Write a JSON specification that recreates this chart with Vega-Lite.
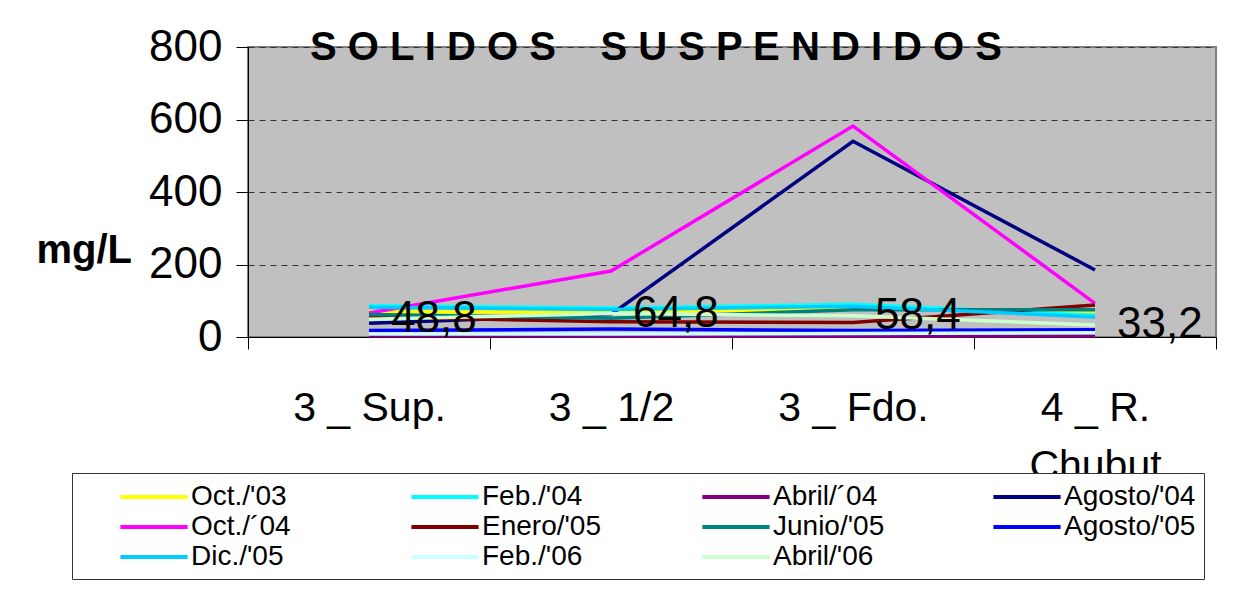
{
  "$schema": "https://vega.github.io/schema/vega-lite/v6.json",
  "autosize": "none",
  "width": 968,
  "height": 290,
  "padding": {"left": 248, "top": 47, "right": 25, "bottom": 261},
  "background": "white",
  "config": {
    "locale": {"number": {"decimal": ",", "thousands": ".", "grouping": [3], "currency": ["$", ""]}},
    "font": "Liberation Sans",
    "view": {"fill": "#C0C0C0", "stroke": "#808080", "strokeWidth": 2}
  },
  "title": {
    "text": "S O L I D O S\u00a0\u00a0\u00a0\u00a0S U S P E N D I D O S",
    "anchor": "start",
    "frame": "group",
    "dx": 62,
    "dy": 47,
    "font": "Liberation Sans",
    "fontSize": 40,
    "fontWeight": "bold",
    "color": "black"
  },
  "data": {
    "values": [
      {"serie": "Oct./'03", "sitio": "3 _ Sup.", "valor": 70},
      {"serie": "Oct./'03", "sitio": "3 _ 1/2", "valor": 68},
      {"serie": "Oct./'03", "sitio": "3 _ Fdo.", "valor": 78},
      {"serie": "Oct./'03", "sitio": "4 _ R. Chubut", "valor": 70},
      {"serie": "Feb./'04", "sitio": "3 _ Sup.", "valor": 86},
      {"serie": "Feb./'04", "sitio": "3 _ 1/2", "valor": 80},
      {"serie": "Feb./'04", "sitio": "3 _ Fdo.", "valor": 90},
      {"serie": "Feb./'04", "sitio": "4 _ R. Chubut", "valor": 60},
      {"serie": "Abril/´04", "sitio": "3 _ Sup.", "valor": 3},
      {"serie": "Abril/´04", "sitio": "3 _ 1/2", "valor": 2},
      {"serie": "Abril/´04", "sitio": "3 _ Fdo.", "valor": 2},
      {"serie": "Abril/´04", "sitio": "4 _ R. Chubut", "valor": 3},
      {"serie": "Agosto/'04", "sitio": "3 _ Sup.", "valor": 38},
      {"serie": "Agosto/'04", "sitio": "3 _ 1/2", "valor": 62},
      {"serie": "Agosto/'04", "sitio": "3 _ Fdo.", "valor": 540},
      {"serie": "Agosto/'04", "sitio": "4 _ R. Chubut", "valor": 185},
      {"serie": "Oct./´04", "sitio": "3 _ Sup.", "valor": 66},
      {"serie": "Oct./´04", "sitio": "3 _ 1/2", "valor": 182},
      {"serie": "Oct./´04", "sitio": "3 _ Fdo.", "valor": 582},
      {"serie": "Oct./´04", "sitio": "4 _ R. Chubut", "valor": 93},
      {"serie": "Enero/'05", "sitio": "3 _ Sup.", "valor": 55},
      {"serie": "Enero/'05", "sitio": "3 _ 1/2", "valor": 42},
      {"serie": "Enero/'05", "sitio": "3 _ Fdo.", "valor": 40},
      {"serie": "Enero/'05", "sitio": "4 _ R. Chubut", "valor": 88},
      {"serie": "Junio/'05", "sitio": "3 _ Sup.", "valor": 62},
      {"serie": "Junio/'05", "sitio": "3 _ 1/2", "valor": 52},
      {"serie": "Junio/'05", "sitio": "3 _ Fdo.", "valor": 75},
      {"serie": "Junio/'05", "sitio": "4 _ R. Chubut", "valor": 75},
      {"serie": "Agosto/'05", "sitio": "3 _ Sup.", "valor": 18},
      {"serie": "Agosto/'05", "sitio": "3 _ 1/2", "valor": 22},
      {"serie": "Agosto/'05", "sitio": "3 _ Fdo.", "valor": 18},
      {"serie": "Agosto/'05", "sitio": "4 _ R. Chubut", "valor": 20},
      {"serie": "Dic./'05", "sitio": "3 _ Sup.", "valor": 82},
      {"serie": "Dic./'05", "sitio": "3 _ 1/2", "valor": 76},
      {"serie": "Dic./'05", "sitio": "3 _ Fdo.", "valor": 85},
      {"serie": "Dic./'05", "sitio": "4 _ R. Chubut", "valor": 55},
      {"serie": "Feb./'06", "sitio": "3 _ Sup.", "valor": 8},
      {"serie": "Feb./'06", "sitio": "3 _ 1/2", "valor": 8},
      {"serie": "Feb./'06", "sitio": "3 _ Fdo.", "valor": 10},
      {"serie": "Feb./'06", "sitio": "4 _ R. Chubut", "valor": 12},
      {"serie": "Abril/'06", "sitio": "3 _ Sup.", "valor": 48.8},
      {"serie": "Abril/'06", "sitio": "3 _ 1/2", "valor": 64.8},
      {"serie": "Abril/'06", "sitio": "3 _ Fdo.", "valor": 58.4},
      {"serie": "Abril/'06", "sitio": "4 _ R. Chubut", "valor": 33.2}
    ]
  },
  "encoding": {
    "x": {
      "field": "sitio",
      "type": "nominal",
      "sort": ["3 _ Sup.", "3 _ 1/2", "3 _ Fdo.", "4 _ R. Chubut"],
      "scale": {"type": "band", "paddingInner": 0, "paddingOuter": 0},
      "axis": {
        "title": null,
        "labelAngle": 0,
        "tickBand": "extent",
        "domainColor": "black",
        "tickColor": "black",
        "tickSize": 12,
        "labelFontSize": 41,
        "labelColor": "black",
        "labelPadding": 71,
        "labelBaseline": "alphabetic",
        "labelLineHeight": 58,
        "labelExpr": "datum.label == '4 _ R. Chubut' ? ['4 _ R.', 'Chubut'] : datum.label"
      }
    },
    "y": {
      "field": "valor",
      "type": "quantitative",
      "scale": {"domain": [0, 800], "nice": false},
      "axis": {
        "values": [0, 200, 400, 600, 800],
        "title": "mg/L",
        "titleAngle": 0,
        "titleFont": "Liberation Sans",
        "titleFontSize": 40,
        "titleFontWeight": "bold",
        "titleColor": "black",
        "titleAlign": "left",
        "titleBaseline": "middle",
        "titleX": -212,
        "titleY": 203,
        "domainColor": "black",
        "tickColor": "black",
        "tickSize": 12,
        "labelFontSize": 44,
        "labelColor": "black",
        "labelPadding": 14,
        "grid": true,
        "gridColor": "#333333",
        "gridDash": [6, 5],
        "gridWidth": 1
      }
    }
  },
  "layer": [
    {
      "mark": {"type": "line", "strokeWidth": 3.5},
      "encoding": {
        "color": {
          "field": "serie",
          "type": "nominal",
          "sort": ["Oct./'03", "Feb./'04", "Abril/´04", "Agosto/'04", "Oct./´04", "Enero/'05", "Junio/'05", "Agosto/'05", "Dic./'05", "Feb./'06", "Abril/'06"],
          "scale": {
            "domain": ["Oct./'03", "Feb./'04", "Abril/´04", "Agosto/'04", "Oct./´04", "Enero/'05", "Junio/'05", "Agosto/'05", "Dic./'05", "Feb./'06", "Abril/'06"],
            "range": ["#FFFF00", "#00FFFF", "#800080", "#000080", "#FF00FF", "#800000", "#008080", "#0000FF", "#00CCFF", "#CCFFFF", "#CCFFCC"]
          },
          "legend": {
            "title": "\u00a0",
            "titleOrient": "left",
            "titleFontSize": 4,
            "titlePadding": 38,
            "orient": "none",
            "legendX": -176,
            "legendY": 426,
            "direction": "horizontal",
            "columns": 4,
            "gridAlign": "all",
            "columnPadding": 80,
            "rowPadding": 0,
            "padding": 8,
            "fillColor": "white",
            "strokeColor": "#333333",
            "symbolType": "M-2.4,0H2.4",
            "symbolSize": 784,
            "symbolStrokeWidth": 4,
            "symbolOffset": 20,
            "labelFontSize": 28,
            "labelColor": "black",
            "labelOffset": 21,
            "labelLimit": 300
          }
        }
      }
    },
    {
      "transform": [{"filter": "datum.serie == \"Abril/'06\""}],
      "mark": {"type": "text", "align": "left", "baseline": "middle", "dx": 22, "fontSize": 44, "color": "black"},
      "encoding": {
        "text": {"field": "valor", "type": "quantitative", "format": ".1f"}
      }
    }
  ]
}
